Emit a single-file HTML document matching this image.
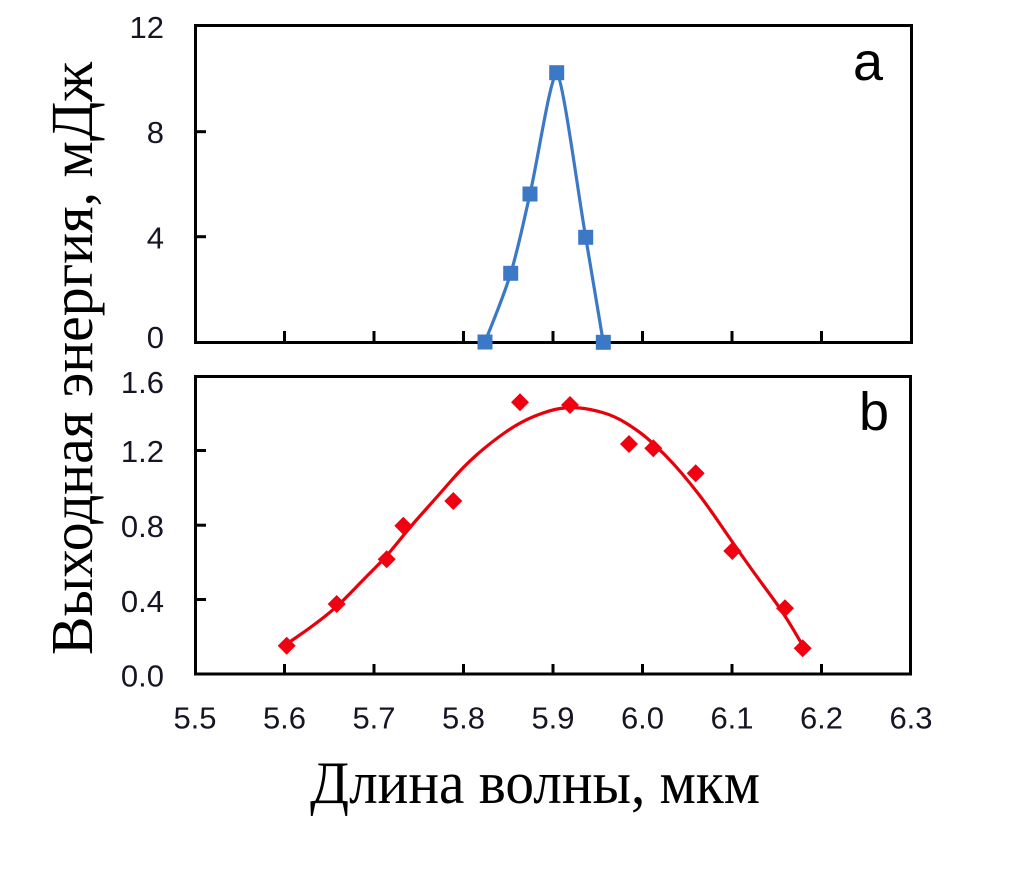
<!DOCTYPE html>
<html><head><meta charset="utf-8">
<style>
html,body{margin:0;padding:0;background:#fff;}
svg{display:block;}
</style></head>
<body>
<svg width="1024" height="878" viewBox="0 0 1024 878" xmlns="http://www.w3.org/2000/svg">
<rect width="1024" height="878" fill="#fff"/>

<!-- Top panel frame -->
<rect x="195.5" y="25.5" width="716" height="317" fill="none" stroke="#000" stroke-width="3"/>
<g stroke="#000" stroke-width="3">
  <line x1="195" y1="131.7" x2="206" y2="131.7"/>
  <line x1="195" y1="236.7" x2="206" y2="236.7"/>
  <line x1="284.5" y1="342" x2="284.5" y2="331"/>
  <line x1="374" y1="342" x2="374" y2="331"/>
  <line x1="463.5" y1="342" x2="463.5" y2="331"/>
  <line x1="553" y1="342" x2="553" y2="331"/>
  <line x1="642.5" y1="342" x2="642.5" y2="331"/>
  <line x1="732" y1="342" x2="732" y2="331"/>
  <line x1="821.5" y1="342" x2="821.5" y2="331"/>
</g>

<!-- Bottom panel frame -->
<rect x="195.5" y="376.5" width="715" height="297.5" fill="none" stroke="#000" stroke-width="3"/>
<g stroke="#000" stroke-width="3">
  <line x1="195" y1="450.5" x2="206" y2="450.5"/>
  <line x1="195" y1="525.2" x2="206" y2="525.2"/>
  <line x1="195" y1="599.5" x2="206" y2="599.5"/>
  <line x1="284.5" y1="674" x2="284.5" y2="664"/>
  <line x1="374" y1="674" x2="374" y2="664"/>
  <line x1="463.5" y1="674" x2="463.5" y2="664"/>
  <line x1="553" y1="674" x2="553" y2="664"/>
  <line x1="642.5" y1="674" x2="642.5" y2="664"/>
  <line x1="732" y1="674" x2="732" y2="664"/>
  <line x1="821.5" y1="674" x2="821.5" y2="664"/>
</g>

<!-- Tick labels -->
<g font-family="'Liberation Sans', Arial, sans-serif" font-size="31" fill="#151525" text-anchor="end">
  <text x="164" y="38">12</text>
  <text x="164" y="143">8</text>
  <text x="164" y="248.5">4</text>
  <text x="164" y="348">0</text>
  <text x="164" y="393">1.6</text>
  <text x="164" y="462">1.2</text>
  <text x="164" y="537">0.8</text>
  <text x="164" y="612">0.4</text>
  <text x="164" y="686.5">0.0</text>
</g>
<g font-family="'Liberation Sans', Arial, sans-serif" font-size="31" fill="#151525" text-anchor="middle">
  <text x="195" y="728.5">5.5</text>
  <text x="284.5" y="728.5">5.6</text>
  <text x="374" y="728.5">5.7</text>
  <text x="463.5" y="728.5">5.8</text>
  <text x="553" y="728.5">5.9</text>
  <text x="642.5" y="728.5">6.0</text>
  <text x="732" y="728.5">6.1</text>
  <text x="821.5" y="728.5">6.2</text>
  <text x="911" y="728.5">6.3</text>
</g>

<!-- Panel letters -->
<g font-family="'Liberation Sans', Arial, sans-serif" font-size="54" fill="#000">
  <text x="853" y="80">a</text>
  <text x="859" y="430">b</text>
</g>

<!-- Axis titles -->
<text x="535" y="803" font-family="'Liberation Serif', 'Times New Roman', serif" font-size="60" fill="#000" text-anchor="middle" textLength="450" lengthAdjust="spacingAndGlyphs">Длина волны, мкм</text>
<text transform="translate(92,358.5) rotate(-90)" x="0" y="0" font-family="'Liberation Serif', 'Times New Roman', serif" font-size="59" fill="#000" text-anchor="middle" textLength="593" lengthAdjust="spacingAndGlyphs">Выходная энергия, мДж</text>

<!-- Top series (blue) -->
<path d="M485,342 C489.3,330.5 503.2,298 510.7,273.3 C518.2,248.6 522.3,227.4 530,194 C537.7,160.6 550,78 556.7,72.7 C563,78 577.9,192.4 585.7,237.3 C593.5,282.2 600.4,324.8 603.3,342.3" fill="none" stroke="#3b79c6" stroke-width="3.2" stroke-linejoin="round"/>
<g fill="#3b79c6">
  <rect x="477.5" y="334.5" width="15" height="15"/>
  <rect x="503.2" y="265.8" width="15" height="15"/>
  <rect x="522.5" y="186.5" width="15" height="15"/>
  <rect x="549.2" y="65.2" width="15" height="15"/>
  <rect x="578.2" y="229.8" width="15" height="15"/>
  <rect x="595.8" y="334.8" width="15" height="15"/>
</g>

<!-- Bottom series (red) -->
<path d="M288,643 L299,635.5 Q310,628 323.5,617.5 Q337,607 350,593.5 Q363,580 375,568 Q387,556 398.5,541.5 Q410,527 423.5,512 Q437,497 450,482 Q463,467 476.5,455 Q490,443 505,432.5 Q520,422 535,416 Q550,410 560,408.5 Q570,407 580,408 Q590,409 602.5,412.5 Q615,416 627.5,424 Q640,432 648,439 Q656,446 664.5,454.5 Q673,463 681.5,473 Q690,483 698.5,494 Q707,505 720,524 Q733,543 745,560 Q757,577 770,594.5 Q783,612 793,629 L803,646" fill="none" stroke="#e8000a" stroke-width="3.2" stroke-linejoin="round" stroke-linecap="round"/>
<g fill="#f00010">
  <polygon points="286.7,636.7 295.7,645.7 286.7,654.7 277.7,645.7"/>
  <polygon points="336.7,595 345.7,604 336.7,613 327.7,604"/>
  <polygon points="386.7,550.3 395.7,559.3 386.7,568.3 377.7,559.3"/>
  <polygon points="403.3,516.7 412.3,525.7 403.3,534.7 394.3,525.7"/>
  <polygon points="453.3,492 462.3,501 453.3,510 444.3,501"/>
  <polygon points="520,393.3 529,402.3 520,411.3 511,402.3"/>
  <polygon points="570,396 579,405 570,414 561,405"/>
  <polygon points="629,435 638,444 629,453 620,444"/>
  <polygon points="653.3,439.3 662.3,448.3 653.3,457.3 644.3,448.3"/>
  <polygon points="695.7,464.3 704.7,473.3 695.7,482.3 686.7,473.3"/>
  <polygon points="732.3,542 741.3,551 732.3,560 723.3,551"/>
  <polygon points="785,599.3 794,608.3 785,617.3 776,608.3"/>
  <polygon points="802.7,639.3 811.7,648.3 802.7,657.3 793.7,648.3"/>
</g>
</svg>
</body></html>
